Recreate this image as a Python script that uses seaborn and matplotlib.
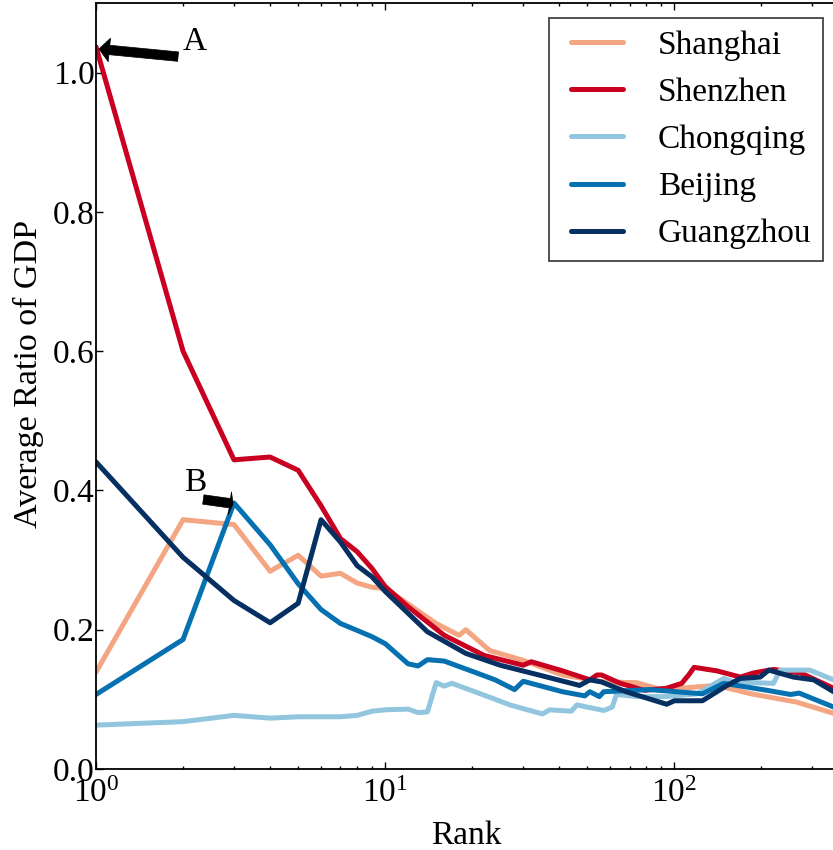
import numpy as np
import pandas as pd
import matplotlib
matplotlib.use("Agg")
import matplotlib.pyplot as plt
import seaborn as sns

cities = ["Shanghai", "Shenzhen", "Chongqing", "Beijing", "Guangzhou"]
colors = ["#f4a582", "#ca0020", "#92c5de", "#0571b0", "#053061"]

shanghai_rank = [1, 2, 3, 4, 5, 6, 7, 8, 9, 10, 12, 15, 18, 19, 23, 30, 41, 57, 74, 90, 140, 184, 265, 355]
shanghai_val = [0.139, 0.358, 0.351, 0.284, 0.307, 0.277, 0.281, 0.267, 0.261, 0.259, 0.237, 0.209,
                0.192, 0.200, 0.170, 0.156, 0.135, 0.125, 0.124, 0.114, 0.120, 0.108, 0.096, 0.080]

shenzhen_rank = [1, 2, 3, 4, 5, 6, 7, 8, 9, 10, 12, 16, 22, 30, 32, 41, 51, 54, 56, 65, 79, 94, 106,
                 112, 117, 140, 169, 188, 220, 273, 355]
shenzhen_val = [1.037, 0.600, 0.444, 0.448, 0.429, 0.378, 0.331, 0.312, 0.288, 0.262, 0.233, 0.192,
                0.163, 0.149, 0.154, 0.141, 0.128, 0.135, 0.135, 0.123, 0.113, 0.116, 0.123, 0.135,
                0.146, 0.141, 0.132, 0.138, 0.143, 0.138, 0.116]

chongqing_rank = [1, 2, 3, 4, 5, 6, 7, 8, 9, 10, 12, 13, 14, 15, 16, 17, 22, 27, 35, 37, 44, 46, 57,
                  61, 63, 74, 94, 120, 148, 161, 220, 232, 294, 355]
chongqing_val = [0.063, 0.068, 0.077, 0.073, 0.075, 0.075, 0.075, 0.077, 0.083, 0.085, 0.086, 0.081,
                 0.082, 0.124, 0.119, 0.123, 0.106, 0.092, 0.079, 0.085, 0.083, 0.092, 0.084, 0.089,
                 0.107, 0.104, 0.104, 0.108, 0.130, 0.125, 0.123, 0.142, 0.142, 0.128]

beijing_rank = [1, 2, 3, 4, 5, 6, 7, 8, 9, 10, 12, 13, 14, 16, 21, 24, 28, 30, 41, 49, 51, 55, 57,
                82, 125, 148, 209, 252, 270, 355]
beijing_val = [0.107, 0.186, 0.382, 0.322, 0.266, 0.229, 0.209, 0.199, 0.190, 0.180, 0.151, 0.148,
               0.157, 0.155, 0.137, 0.128, 0.114, 0.126, 0.111, 0.105, 0.111, 0.104, 0.111, 0.114,
               0.108, 0.123, 0.113, 0.107, 0.109, 0.089]

guangzhou_rank = [1, 2, 3, 4, 5, 6, 7, 8, 9, 10, 14, 19, 25, 34, 47, 51, 56, 68, 94, 100, 125, 152,
                  169, 198, 212, 258, 303, 355]
guangzhou_val = [0.441, 0.304, 0.242, 0.210, 0.238, 0.358, 0.326, 0.292, 0.276, 0.255, 0.197, 0.166,
                 0.149, 0.135, 0.120, 0.128, 0.125, 0.111, 0.093, 0.098, 0.098, 0.120, 0.130, 0.132,
                 0.142, 0.132, 0.128, 0.111]

series = {
    "Shanghai": (shanghai_rank, shanghai_val),
    "Shenzhen": (shenzhen_rank, shenzhen_val),
    "Chongqing": (chongqing_rank, chongqing_val),
    "Beijing": (beijing_rank, beijing_val),
    "Guangzhou": (guangzhou_rank, guangzhou_val),
}

frames = []
for name in cities:
    r, v = series[name]
    frames.append(pd.DataFrame({"Rank": r, "Ratio": v, "City": name}))
df = pd.concat(frames, ignore_index=True)

sns.set_style("ticks")
plt.rcParams["font.family"] = ["Liberation Serif", "DejaVu Serif"]
plt.rcParams["mathtext.fontset"] = "custom"
plt.rcParams["mathtext.rm"] = "Liberation Serif"
plt.rcParams["mathtext.it"] = "Liberation Serif:italic"
plt.rcParams["font.size"] = 24
plt.rcParams["text.color"] = "black"
plt.rcParams["axes.labelcolor"] = "black"
plt.rcParams["xtick.color"] = "black"
plt.rcParams["ytick.color"] = "black"

fig = plt.figure(figsize=(8.33, 8.5), dpi=100)
ax = fig.add_axes([96 / 833, 81 / 850, 740 / 833, 766 / 850])

sns.lineplot(data=df, x="Rank", y="Ratio", hue="City", hue_order=cities,
             palette=dict(zip(cities, colors)), linewidth=3.6, ax=ax,
             estimator=None, sort=True, legend=True)

ax.set_xscale("log")
ax.set_xlim(1, 362)
ax.set_ylim(0, 1.1)
ax.set_yticks([0.0, 0.2, 0.4, 0.6, 0.8, 1.0])
ax.set_yticklabels(["0.0", "0.2", "0.4", "0.6", "0.8", "1.0"])
ax.set_xlabel("Rank", fontsize=24, labelpad=8)
ax.set_ylabel("Average Ratio of GDP", fontsize=24.5, labelpad=6, y=0.516)

for s in ax.spines.values():
    s.set_visible(True)
    s.set_linewidth(1.3)
    s.set_color("black")
ax.tick_params(which="both", direction="in", top=True, right=False, labelsize=24,
               colors="black", labelcolor="black")
ax.tick_params(which="major", length=5, width=1)
ax.tick_params(which="minor", length=2.5, width=1)
ax.tick_params(axis="x", which="major", pad=7)
ax.tick_params(axis="y", which="major", pad=1)

arrow_a = dict(arrowstyle="simple,head_length=7.5,head_width=17,tail_width=6.8",
               mutation_scale=1, shrinkA=0, shrinkB=0, facecolor="black", edgecolor="black", lw=0.5)
arrow_b = dict(arrowstyle="simple,head_length=2.4,head_width=16.5,tail_width=6.8",
               mutation_scale=1, shrinkA=0, shrinkB=0, facecolor="black", edgecolor="black", lw=0.5)

ax.annotate("", xy=(1.024, 1.034), xytext=(1.922, 1.023), arrowprops=arrow_a)
ax.text(2.0, 1.032, "A", fontsize=24, va="baseline", ha="left")
ax.annotate("", xy=(2.98, 0.381), xytext=(2.35, 0.387), arrowprops=arrow_b)
ax.text(2.02, 0.3997, "B", fontsize=24, va="baseline", ha="left")

handles, labels = ax.get_legend_handles_labels()
leg = ax.legend(handles, labels, loc="upper right", bbox_to_anchor=(987 / 1000 * (737 / 740), 0.980),
                borderaxespad=0, fontsize=24, frameon=True, fancybox=False,
                edgecolor="black", handlelength=2.16, handletextpad=0.75, numpoints=2,
                labelspacing=0.5, borderpad=0.36)
leg.get_frame().set_linewidth(1.2)
for line in leg.get_lines():
    line.set_linewidth(3.6)

fig.savefig("out.png", dpi=100, facecolor="white")
